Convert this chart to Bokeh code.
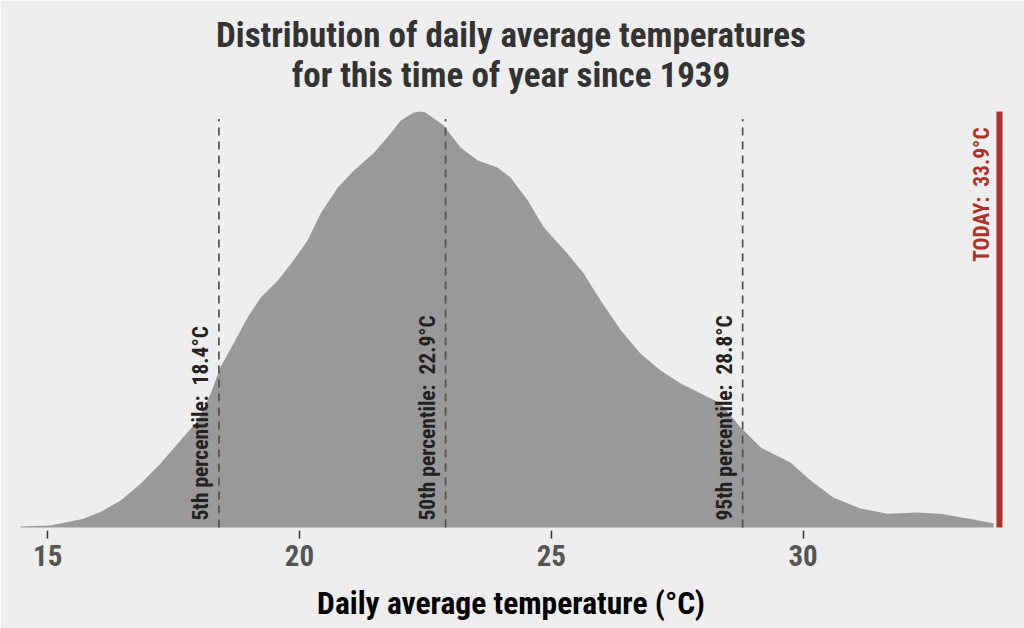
import math
from bokeh.plotting import figure
from bokeh.models import Range1d, FixedTicker, Title
from bokeh.core.properties import value
from bokeh.embed import file_html
from bokeh.resources import INLINE

# ---- data ----
temps = [14.46, 15.06, 15.71, 16.05, 16.45, 16.85, 17.24, 17.64, 17.98, 18.24,
         18.43, 18.69, 18.97, 19.23, 19.57, 19.88, 20.16, 20.42, 20.76, 21.08,
         21.47, 21.81, 22.01, 22.27, 22.39, 22.50, 22.86, 23.20, 23.54, 23.93,
         24.19, 24.53, 24.85, 25.32, 25.64, 25.98, 26.38, 26.77, 27.17, 27.57,
         27.96, 28.36, 28.76, 29.16, 29.75, 30.15, 30.60, 31.14, 31.68, 32.27,
         32.73, 33.27, 33.78]
density = [0.0003, 0.0006, 0.0025, 0.0045, 0.0078, 0.0127, 0.0185, 0.0252, 0.0309, 0.0388,
           0.0463, 0.0532, 0.0607, 0.0665, 0.0714, 0.0772, 0.0830, 0.0908, 0.0983, 0.1032,
           0.1082, 0.1139, 0.1177, 0.1200, 0.1203, 0.1200, 0.1163, 0.1099, 0.1061, 0.1041,
           0.1012, 0.0946, 0.0868, 0.0792, 0.0735, 0.0656, 0.0570, 0.0503, 0.0454, 0.0416,
           0.0388, 0.0359, 0.0289, 0.0231, 0.0188, 0.0136, 0.0087, 0.0055, 0.0040, 0.0043,
           0.0040, 0.0026, 0.0012]
pct_names = ["5th", "50th", "95th"]
pct_values = [18.4, 22.9, 28.8]
today_value = 33.9
xticks = [15, 20, 25, 30]
title_lines = ["Distribution of daily average temperatures",
               "for this time of year since 1939"]

FONT = "'Roboto Condensed', 'Liberation Sans Narrow', 'DejaVu Sans Condensed', Roboto"
BG = "#EEEEEE"
RED = "#B0302A"

X0, X1 = 14.42, 33.98
BORDER_L, BORDER_R = 18, 21
px_per_unit = (1024 - BORDER_L - BORDER_R) / (X1 - X0)
gap = 18 / px_per_unit  # label sits just left of its line

peak = max(density)

p = figure(width=1024, height=628, output_backend="svg", toolbar_location=None,
           x_range=Range1d(X0, X1), y_range=Range1d(-0.00087, 0.12202),
           min_border_left=BORDER_L, min_border_right=BORDER_R, min_border_top=105,
           min_border_bottom=98)
p.background_fill_color = BG
p.border_fill_color = BG
p.outline_line_color = None
p.grid.visible = False
p.yaxis.visible = False

p.varea(x=temps, y1=[0] * len(temps), y2=density, fill_color="#999999")

p.segment(x0=pct_values, y0=[0] * 3, x1=pct_values, y1=[peak * 0.982] * 3,
          line_color="#505050", line_width=1.7, line_dash="8 6")

labels = [f"{n} percentile: \u00a0{v}°C" for n, v in zip(pct_names, pct_values)]
p.text(x=[v - gap for v in pct_values], y=[0.002] * 3, text=labels, angle=math.pi / 2,
       text_align="left", text_baseline="alphabetic",
       text_font=value(FONT), text_font_style="bold", text_font_size="21.5px",
       text_color="#222222")

p.segment(x0=[today_value], y0=[0], x1=[today_value], y1=[peak],
          line_color=RED, line_width=6)
p.text(x=[today_value - gap], y=[0.1157], text=[f"TODAY: \u00a0{today_value}°C"],
       angle=math.pi / 2, text_align="right", text_baseline="alphabetic",
       text_font=value(FONT), text_font_style="bold",
       text_font_size="21.5px", text_color=RED)

ax = p.xaxis[0]
ax.ticker = FixedTicker(ticks=xticks)
ax.axis_line_color = None
ax.major_tick_line_color = "#333333"
ax.major_tick_line_width = 1.5
ax.major_tick_out = 8
ax.major_tick_in = 0
ax.minor_tick_line_color = None
ax.major_label_text_font = FONT
ax.major_label_text_font_style = "bold"
ax.major_label_text_font_size = "29px"
ax.major_label_text_color = "#555555"
ax.major_label_standoff = 6
ax.axis_label = "Daily average temperature (°C)"
ax.axis_label_text_font = FONT
ax.axis_label_text_font_style = "bold"
ax.axis_label_text_font_size = "31.5px"
ax.axis_label_text_color = "#000000"
ax.axis_label_standoff = 16

title = Title(text="\n".join(title_lines), align="center", text_align="center",
              text_font=FONT, text_font_style="bold", text_font_size="35px",
              text_color="#333333", text_line_height=0.98, standoff=19)
p.add_layout(title, "above")

open("out.html", "w").write(file_html(p, INLINE))
